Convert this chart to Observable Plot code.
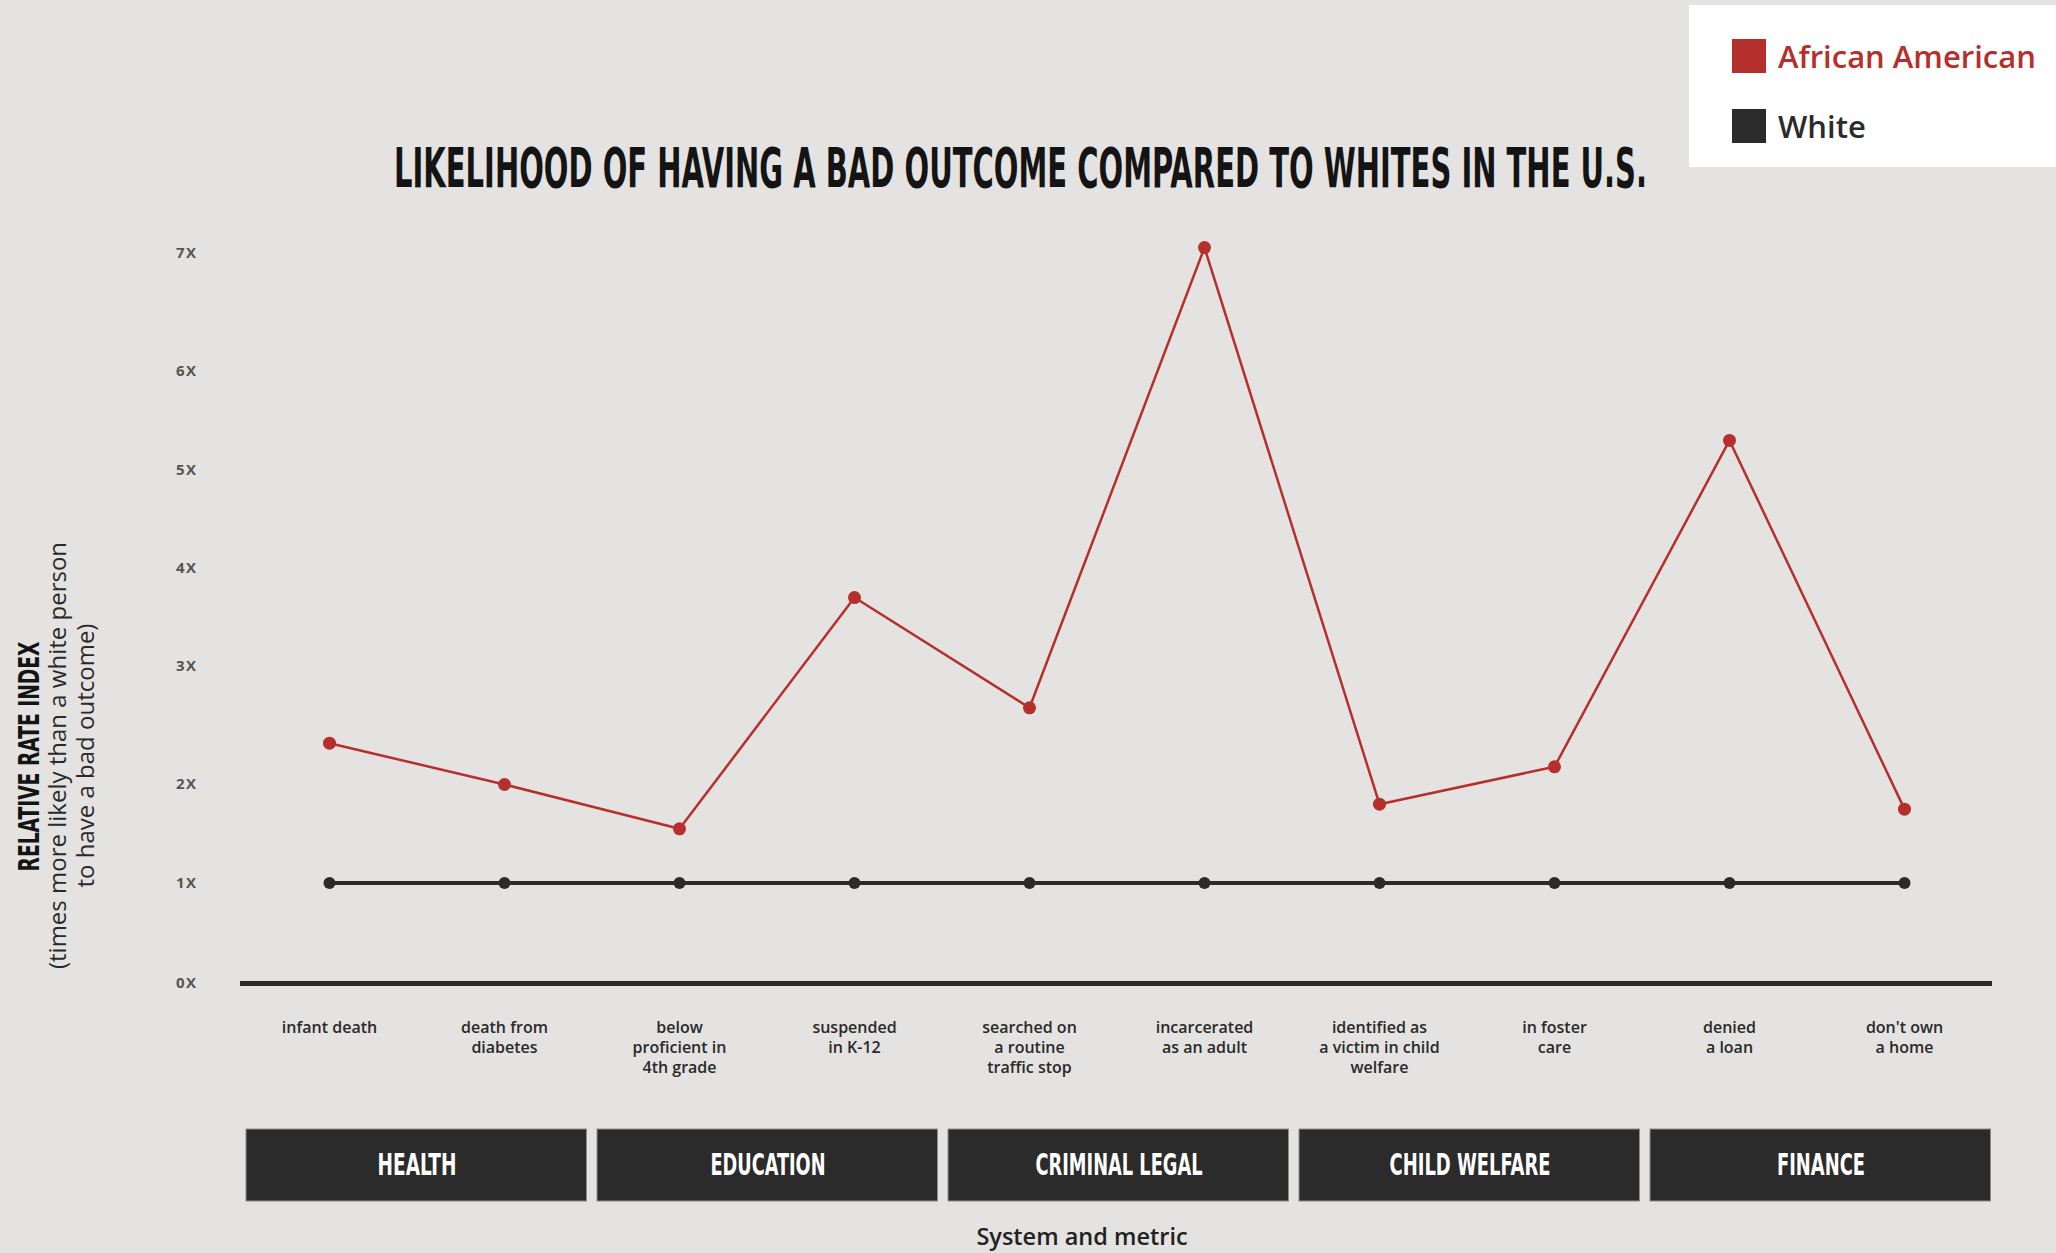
<!DOCTYPE html>
<html><head><meta charset="utf-8">
<script src="https://cdn.jsdelivr.net/npm/d3@7"></script>
<script src="https://cdn.jsdelivr.net/npm/@observablehq/plot@0.6"></script>
<style>
html,body{margin:0;padding:0;background:#e4e3e1;}
#page{position:relative;width:2056px;height:1253px;overflow:hidden;background:#e4e3e1;font-family:"Open Sans",sans-serif;}
#legend{position:absolute;left:1689px;top:5px;width:367px;height:162px;background:#fff;}
.item{position:absolute;left:43px;height:34px;display:flex;align-items:center;font-size:31px;font-weight:600;white-space:nowrap;}
.item .sw{width:34px;height:34px;margin-right:12px;flex:none;}
#title{position:absolute;left:0;top:141px;width:2042px;display:flex;justify-content:center;line-height:55px;white-space:nowrap;}
#title span{display:inline-block;flex:none;font-family:"DejaVu Sans Condensed","DejaVu Sans",sans-serif;font-weight:bold;font-size:55px;color:#141414;transform-origin:50% 50%;}
#main{position:absolute;left:0;top:205px;}
#boxes{position:absolute;left:0;top:1120px;}
#caption{position:absolute;left:0;width:2164px;top:1221px;line-height:30px;text-align:center;font-size:23.5px;font-weight:600;color:#222;}
#main svg [aria-label="y-axis tick label"] text{font-weight:700;letter-spacing:1.5px;}
#main svg [aria-label="x-axis tick label"] text{font-weight:600;}
</style>
</head>
<body>
<div id="page">
  <div id="title"><span></span></div>
  <div id="legend"></div>
  <div id="main"></div>
  <div id="boxes"></div>
  <div id="caption"></div>
</div>
<script>
// ---- data ----
const metrics = ["infant death", "death from diabetes", "below proficient in 4th grade", "suspended in K-12",
  "searched on a routine traffic stop", "incarcerated as an adult", "identified as a victim in child welfare",
  "in foster care", "denied a loan", "don't own a home"];
const metricLabels = ["infant death", "death from\ndiabetes", "below\nproficient in\n4th grade", "suspended\nin K-12",
  "searched on\na routine\ntraffic stop", "incarcerated\nas an adult", "identified as\na victim in child\nwelfare",
  "in foster\ncare", "denied\na loan", "don't own\na home"];
const systems = ["HEALTH", "EDUCATION", "CRIMINAL LEGAL", "CHILD WELFARE", "FINANCE"];
const africanAmerican = [2.35, 2.0, 1.55, 3.7, 2.65, 7.05, 1.8, 2.15, 5.3, 1.75];
const white = [1, 1, 1, 1, 1, 1, 1, 1, 1, 1];
const yTicks = [0, 1, 2, 3, 4, 5, 6, 7];
const yTickLabels = ["0X", "1X", "2X", "3X", "4X", "5X", "6X", "7X"];
const seriesNames = ["African American", "White"];
const titleText = "LIKELIHOOD OF HAVING A BAD OUTCOME COMPARED TO WHITES IN THE U.S.";
const yTitle = ["RELATIVE RATE INDEX", "(times more likely than a white person", "to have a bad outcome)"];
const xTitle = "System and metric";

// ---- styles ----
const RED = "#b52f2c", DARK = "#2b2b2b";
const seriesColors = [RED, DARK];
const CONDENSED = "DejaVu Sans Condensed, DejaVu Sans";
// piecewise y positions of the original's (unevenly spaced) ticks
const yRange = [778, 677.5, 579, 461, 362.5, 264.5, 166, 48];
const condensedWidth = {"RELATIVE RATE INDEX": 230, "HEALTH": 79, "EDUCATION": 115, "CRIMINAL LEGAL": 167, "CHILD WELFARE": 161, "FINANCE": 88};

const rows = metrics.map((m, i) => ({metric: m, aa: africanAmerican[i], white: white[i]}));

// title
const tspan = document.querySelector("#title span");
tspan.textContent = titleText;

// legend
const legend = document.getElementById("legend");
seriesNames.forEach((name, i) => {
  const it = document.createElement("div");
  it.className = "item";
  it.style.top = (34 + i * 70) + "px";
  it.style.color = seriesColors[i];
  const sw = document.createElement("span");
  sw.className = "sw"; sw.style.background = seriesColors[i];
  it.appendChild(sw);
  it.appendChild(document.createTextNode(name));
  legend.appendChild(it);
});

const main = Plot.plot({
  width: 2056, height: 900,
  marginLeft: 240, marginRight: 64, marginTop: 48, marginBottom: 122,
  style: {background: "transparent", fontFamily: "Open Sans, sans-serif", overflow: "visible"},
  x: {type: "point", domain: metrics, padding: 0.5},
  y: {type: "linear", domain: yTicks, range: yRange},
  marks: [
    Plot.axisY({ticks: yTicks, tickFormat: d => yTickLabels[yTicks.indexOf(d)], tickSize: 0, tickPadding: 43,
      fontSize: 15, fill: "#555", label: null}),
    Plot.axisX({tickSize: 0, tickPadding: 36, tickFormat: d => metricLabels[metrics.indexOf(d)],
      fontSize: 16, lineHeight: 1.23, fill: "#2a2a2a", label: null}),
    Plot.ruleY([0], {stroke: DARK, strokeWidth: 5}),
    Plot.line(rows, {x: "metric", y: "white", stroke: DARK, strokeWidth: 4}),
    Plot.dot(rows, {x: "metric", y: "white", r: 6, fill: DARK}),
    Plot.line(rows, {x: "metric", y: "aa", stroke: RED, strokeWidth: 2.5}),
    Plot.dot(rows, {x: "metric", y: "aa", r: 6.5, fill: RED}),
    Plot.text([yTitle[0]], {text: d => d, frameAnchor: "left", textAnchor: "middle", rotate: -90, dx: -211, dy: 138,
      fontFamily: CONDENSED, fontWeight: "bold", fontSize: 29, fill: "#141414"}),
    Plot.text([yTitle[1]], {text: d => d, frameAnchor: "left", textAnchor: "middle", rotate: -90, dx: -182, dy: 137,
      fontSize: 24, fontWeight: 500, fill: "#2a2a2a"}),
    Plot.text([yTitle[2]], {text: d => d, frameAnchor: "left", textAnchor: "middle", rotate: -90, dx: -154, dy: 137,
      fontSize: 24, fontWeight: 500, fill: "#2a2a2a"})
  ]
});
document.getElementById("main").appendChild(main);

const boxes = Plot.plot({
  width: 2056, height: 90,
  marginLeft: 239, marginRight: 58, marginTop: 9, marginBottom: 9,
  style: {background: "transparent"},
  x: {type: "band", domain: systems, padding: 0, axis: null},
  y: {domain: [0, 1], axis: null},
  marks: [
    Plot.barY(systems, {x: d => d, y1: 0, y2: 1, fill: DARK, stroke: "#8e8e8e", strokeWidth: 1, insetLeft: 5, insetRight: 5.5}),
    Plot.text(systems, {x: d => d, text: d => d, fill: "#fff", fontSize: 30, fontWeight: "bold", fontFamily: CONDENSED})
  ]
});
document.getElementById("boxes").appendChild(boxes);

document.getElementById("caption").textContent = xTitle;

// condense the display-font texts
document.querySelectorAll('g[font-family^="DejaVu Sans Condensed"] text').forEach(t => {
  const target = condensedWidth[t.textContent];
  if (target) {
    t.setAttribute("textLength", target);
    t.setAttribute("lengthAdjust", "spacingAndGlyphs");
  }
});
const tw = tspan.getBoundingClientRect().width;
tspan.style.transform = `scaleX(${1253 / tw})`;
</script>
</body></html>
